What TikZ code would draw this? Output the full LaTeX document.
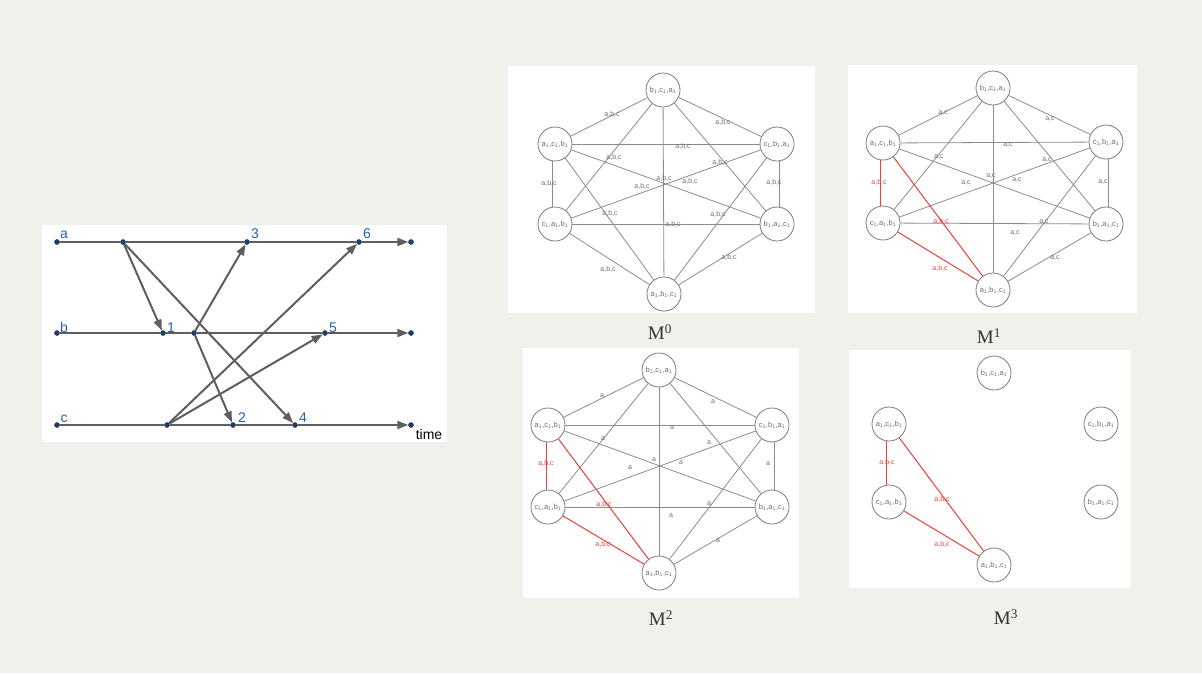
\documentclass[tikz,border=0pt]{standalone}
\usepackage{fontspec}
\setmainfont{Liberation Sans}
\newfontfamily\capfont{Liberation Serif}
\usetikzlibrary{arrows.meta}
\definecolor{bgcol}{HTML}{F2F0EA}
\definecolor{tlgray}{HTML}{5E5E5E}
\definecolor{tlblue}{HTML}{2461AE}
\definecolor{dotfill}{HTML}{1D3F78}
\definecolor{edgegray}{HTML}{8C8C8C}
\definecolor{nodegray}{HTML}{7A7A7A}
\definecolor{textgray}{HTML}{6E6E6E}
\definecolor{edgered}{HTML}{E8403E}
\newcommand{\trip}[3]{#1\textsubscript{1},#2\textsubscript{1},#3\textsubscript{1}}
\tikzset{
 tldot/.style={circle, fill=dotfill, draw=black!85, line width=0.4pt, inner sep=0pt, minimum size=5pt},
 tlline/.style={draw=tlgray, line width=2pt, -{Triangle[length=11pt,width=8pt]}},
 tllabel/.style={text=tlblue, font=\fontsize{14}{14}\selectfont, anchor=base, inner sep=0pt},
 gnode/.style={circle, draw=nodegray, line width=0.8pt, minimum size=34pt, inner sep=0pt, text=textgray, font=\fontsize{7.5}{8}\selectfont},
 gedge/.style={draw=edgegray, line width=0.8pt},
 redge/.style={draw=edgered, line width=1pt},
 glabel/.style={text=textgray, font=\fontsize{7}{8}\selectfont, inner sep=0pt},
 rlabel/.style={text=edgered, font=\fontsize{7}{8}\selectfont, inner sep=0pt},
 panel/.style={fill=white, draw=none},
 capt/.style={font=\capfont\fontsize{19}{19}\selectfont, text=black!80, inner sep=0pt},
}
\begin{document}
\begin{tikzpicture}[x=1pt, y=-1pt]
\useasboundingbox (0,0) rectangle (1202,673);
\fill[bgcol] (0,0) rectangle (1202,673);

% panels
\fill[panel] (42,225) rectangle (447,442);
\fill[panel] (508,66) rectangle (815,313);
\fill[panel] (848,65) rectangle (1137,313);
\fill[panel] (523,348) rectangle (799,598);
\fill[panel] (849,350) rectangle (1131,588);

% ---------------- left: message diagram ----------------
\node[tldot] (a0) at (57,242) {};
\node[tldot] (aS) at (123,242) {};
\node[tldot] (a3) at (247,242) {};
\node[tldot] (a6) at (359,242) {};
\node[tldot] (aE) at (411,242) {};
\node[tldot] (b0) at (57,333) {};
\node[tldot] (b1) at (163,333) {};
\node[tldot] (bS) at (194,333) {};
\node[tldot] (b5) at (325,333) {};
\node[tldot] (bE) at (411,333) {};
\node[tldot] (c0) at (57,425) {};
\node[tldot] (cS) at (167,425) {};
\node[tldot] (c2) at (233,425) {};
\node[tldot] (c4) at (295,425) {};
\node[tldot] (cE) at (411,425) {};

\draw[tlline] (a0) -- (aS) -- (a3) -- (a6) -- (aE);
\draw[tlline] (b0) -- (b1) -- (bS) -- (b5) -- (bE);
\draw[tlline] (c0) -- (cS) -- (c2) -- (c4) -- (cE);

\draw[tlline] (aS) -- (b1);
\draw[tlline] (aS) -- (c4);
\draw[tlline] (bS) -- (a3);
\draw[tlline] (bS) -- (c2);
\draw[tlline] (cS) -- (a6);
\draw[tlline] (cS) -- (b5);

\node[tllabel] (la) at (64,238) {a};
\node[tllabel] (lb) at (64,332) {b};
\node[tllabel] (lc) at (64,422) {c};
\node[tllabel] (l3) at (255,238) {3};
\node[tllabel] (l6) at (367,238) {6};
\node[tllabel] (l1) at (171,332) {1};
\node[tllabel] (l5) at (333,332) {5};
\node[tllabel] (l2) at (242,422) {2};
\node[tllabel] (l4) at (303,422) {4};
\node[tllabel, text=black] (ltime) at (429,439) {time};

% ---------------- M0 ----------------
\node[gnode] (m0t)  at (663,90)  {\trip{b}{c}{a}};
\node[gnode] (m0ul) at (555,144) {\trip{a}{c}{b}};
\node[gnode] (m0ur) at (777,144) {\trip{c}{b}{a}};
\node[gnode] (m0ll) at (555,224) {\trip{c}{a}{b}};
\node[gnode] (m0lr) at (777,224) {\trip{b}{a}{c}};
\node[gnode] (m0b)  at (664,294) {\trip{a}{b}{c}};
\foreach \u/\v in {t/ul,t/ur,t/ll,t/lr,t/b,ul/ur,ul/lr,ul/b,ur/ll,ur/b,ll/lr,ll/b,lr/b}{
  \draw[gedge] (m0\u) -- (m0\v);}
\draw[gedge] ([xshift=-3pt]m0ul.south) -- ([xshift=-3pt]m0ll.north);
\draw[gedge] ([xshift=2pt]m0ur.south) -- ([xshift=2pt]m0lr.north);
\node[glabel] (m0e1)  at (612,114) {a,b,c};
\node[glabel] (m0e2)  at (723,122) {a,b,c};
\node[glabel] (m0e3)  at (683,146) {a,b,c};
\node[glabel] (m0e4)  at (614,157) {a,b,c};
\node[glabel] (m0e5)  at (720,162) {a,b,c};
\node[glabel] (m0e6)  at (549,183) {a,b,c};
\node[glabel] (m0e7)  at (664,178) {a,b,c};
\node[glabel] (m0e8)  at (642,186) {a,b,c};
\node[glabel] (m0e9)  at (690,181) {a,b,c};
\node[glabel] (m0e10) at (774,182) {a,b,c};
\node[glabel] (m0e11) at (610,213) {a,b,c};
\node[glabel] (m0e12) at (718,214) {a,b,c};
\node[glabel] (m0e13) at (673,224) {a,b,c};
\node[glabel] (m0e14) at (608,269) {a,b,c};
\node[glabel] (m0e15) at (729,257) {a,b,c};
\node[capt] (cap0) at (660,332) {M\textsuperscript{0}};

% ---------------- M1 ----------------
\node[gnode] (m1t)  at (993,88)   {\trip{b}{c}{a}};
\node[gnode] (m1ul) at (883,143)  {\trip{a}{c}{b}};
\node[gnode] (m1ur) at (1106,142) {\trip{c}{b}{a}};
\node[gnode] (m1ll) at (883,223)  {\trip{c}{a}{b}};
\node[gnode] (m1lr) at (1106,224) {\trip{b}{a}{c}};
\node[gnode] (m1b)  at (993,290)  {\trip{a}{b}{c}};
\foreach \u/\v in {t/ul,t/ur,t/ll,t/lr,t/b,ul/ur,ul/lr,ur/ll,ur/b,ll/lr,lr/b}{
  \draw[gedge] (m1\u) -- (m1\v);}
\draw[gedge] ([xshift=2pt]m1ur.south) -- ([xshift=2pt]m1lr.north);
\draw[redge] ([xshift=-3pt]m1ul.south) -- ([xshift=-3pt]m1ll.north);
\draw[redge] (m1ul) -- (m1b);
\draw[redge] (m1ll) -- (m1b);
\node[glabel] (m1e1)  at (943,113)  {a,c};
\node[glabel] (m1e2)  at (1050,119) {a,c};
\node[glabel] (m1e3)  at (1008,145) {a,c};
\node[glabel] (m1e4)  at (939,157)  {a,c};
\node[glabel] (m1e5)  at (1047,160) {a,c};
\node[rlabel] (m1e6)  at (879,182)  {a,b,c};
\node[glabel] (m1e7)  at (991,176)  {a,c};
\node[glabel] (m1e8)  at (966,183)  {a,c};
\node[glabel] (m1e9)  at (1017,180) {a,c};
\node[glabel] (m1e10) at (1103,182) {a,c};
\node[rlabel] (m1e11) at (941,221)  {a,b,c};
\node[glabel] (m1e12) at (1044,222) {a,c};
\node[glabel] (m1e13) at (1015,233) {a,c};
\node[rlabel] (m1e14) at (940,268)  {a,b,c};
\node[glabel] (m1e15) at (1055,258) {a,c};
\node[capt] (cap1) at (989,336) {M\textsuperscript{1}};

% ---------------- M2 ----------------
\node[gnode] (m2t)  at (659,370) {\trip{b}{c}{a}};
\node[gnode] (m2ul) at (548,425) {\trip{a}{c}{b}};
\node[gnode] (m2ur) at (772,425) {\trip{c}{b}{a}};
\node[gnode] (m2ll) at (548,507) {\trip{c}{a}{b}};
\node[gnode] (m2lr) at (772,507) {\trip{b}{a}{c}};
\node[gnode] (m2b)  at (659,573) {\trip{a}{b}{c}};
\foreach \u/\v in {t/ul,t/ur,t/ll,t/lr,t/b,ul/ur,ul/lr,ur/ll,ur/b,ll/lr,lr/b}{
  \draw[gedge] (m2\u) -- (m2\v);}
\draw[gedge] ([xshift=2pt]m2ur.south) -- ([xshift=2pt]m2lr.north);
\draw[redge] ([xshift=-2pt]m2ul.south) -- ([xshift=-2pt]m2ll.north);
\draw[redge] (m2ul) -- (m2b);
\draw[redge] (m2ll) -- (m2b);
\node[glabel] (m2e1)  at (602,396) {a};
\node[glabel] (m2e2)  at (713,402) {a};
\node[glabel] (m2e3)  at (672,428) {a};
\node[glabel] (m2e4)  at (603,439) {a};
\node[glabel] (m2e5)  at (709,443) {a};
\node[rlabel] (m2e6)  at (546,463) {a,b,c};
\node[glabel] (m2e7)  at (654,460) {a};
\node[glabel] (m2e8)  at (630,468) {a};
\node[glabel] (m2e9)  at (681,463) {a};
\node[glabel] (m2e10) at (768,464) {a};
\node[rlabel] (m2e11) at (604,504) {a,b,c};
\node[glabel] (m2e12) at (709,504) {a};
\node[glabel] (m2e13) at (671,516) {a};
\node[rlabel] (m2e14) at (603,544) {a,b,c};
\node[glabel] (m2e15) at (718,541) {a};
\node[capt] (cap2) at (661,618) {M\textsuperscript{2}};

% ---------------- M3 ----------------
\node[gnode] (m3t)  at (994,373)  {\trip{b}{c}{a}};
\node[gnode] (m3ul) at (889,424)  {\trip{a}{c}{b}};
\node[gnode] (m3ur) at (1101,424) {\trip{c}{b}{a}};
\node[gnode] (m3ll) at (889,502)  {\trip{c}{a}{b}};
\node[gnode] (m3lr) at (1101,502) {\trip{b}{a}{c}};
\node[gnode] (m3b)  at (994,565)  {\trip{a}{b}{c}};
\draw[redge] ([xshift=-3pt]m3ul.south) -- ([xshift=-3pt]m3ll.north);
\draw[redge] (m3ul) -- (m3b);
\draw[redge] (m3ll) -- (m3b);
\node[rlabel] (m3e1) at (887,462) {a,b,c};
\node[rlabel] (m3e2) at (942,499) {a,b,c};
\node[rlabel] (m3e3) at (942,544) {a,b,c};
\node[capt] (cap3) at (1006,617) {M\textsuperscript{3}};
\end{tikzpicture}
\end{document}
